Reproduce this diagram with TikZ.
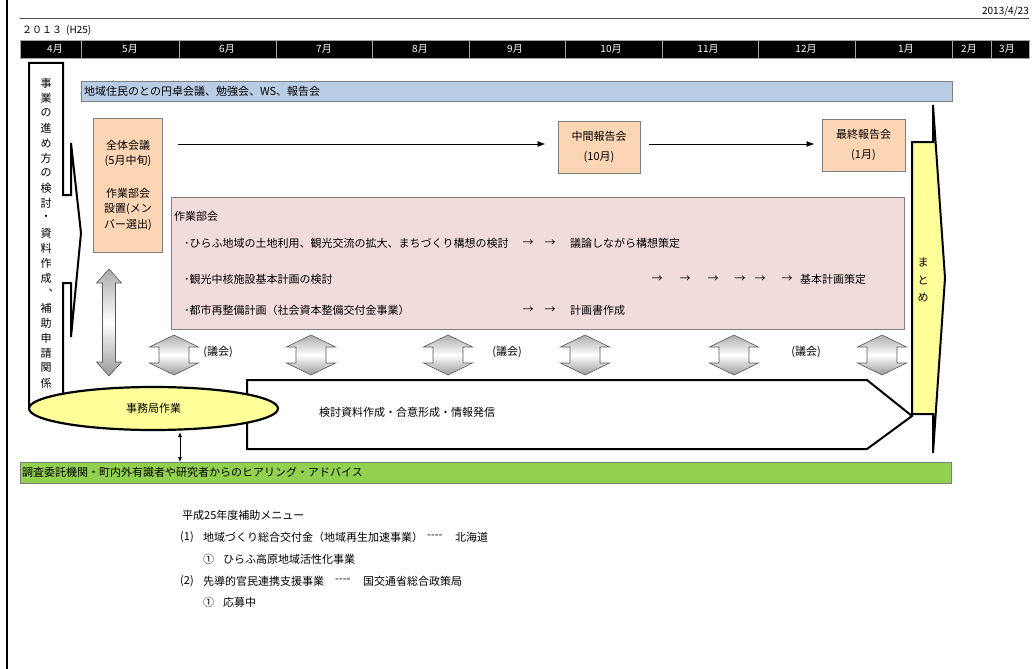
\documentclass[tikz,border=0pt]{standalone}
\usepackage{fontspec}
\setmainfont{Noto Sans CJK JP}
\usetikzlibrary{arrows.meta,shapes.geometric}
\definecolor{peach}{HTML}{FCD5B4}
\definecolor{pinkc}{HTML}{F2DCDB}
\definecolor{bluec}{HTML}{B9CDE5}
\definecolor{greenc}{HTML}{92D050}
\definecolor{yel}{HTML}{FFFF99}
\definecolor{edgegray}{HTML}{7F7F7F}
\tikzset{
  t/.style={inner sep=0pt, font=\fontsize{11}{13}\selectfont},
  tw/.style={t, anchor=west},
  small/.style={inner sep=0pt, font=\fontsize{10}{12}\selectfont},
  bar/.style={draw=edgegray, line width=1pt, inner sep=0pt, anchor=north west},
  monthcell/.style={fill=black, draw=gray!70, line width=0.8pt},
  monthtxt/.style={small, text=white},
  vt/.style={t},
  dbl/.style={draw=gray!70!black, line width=0.6pt, top color=gray!65, bottom color=gray!80, middle color=white},
  arr/.style={-{Latex[length=8pt,width=6pt]}, line width=0.8pt},
  thickln/.style={line width=2pt, line join=miter},
}
\newcommand\dblarrw[6]{\path[dbl] (#1,#2) -- ({#1+#4},{#2+#6}) -- ({#1+#5},{#2+#6}) -- ({#1+#5},{#3-#6}) -- ({#1+#4},{#3-#6}) -- (#1,#3) -- ({#1-#4},{#3-#6}) -- ({#1-#5},{#3-#6}) -- ({#1-#5},{#2+#6}) -- ({#1-#4},{#2+#6}) -- cycle;}
\newcommand\fourdash{-{}-{}-{}-}
\begin{document}
\begin{tikzpicture}[x=1pt,y=-1pt]
\useasboundingbox (0,0) rectangle (1036,669);
\fill[white] (0,0) rectangle (1036,669);
% page border and header
\draw[line width=2.5pt] (7,0) -- (7,669);
\draw[gray!60!black, line width=0.8pt] (20,18) -- (1029,18);
\node[small, anchor=east] (date) at (1029,11) {2013/4/23};
\node[small, anchor=west] (year) at (22,30) {２０１３};
\node[small, anchor=west] (h25) at (66,30) {(H25)};
% months
\foreach \a/\b/\c/\m [count=\i] in {20/81/55/4月, 81/179/130/5月, 179/276/227/6月, 276/372/324/7月, 372/469/420/8月, 469/565/515/9月, 565/662/611/10月, 662/758/708/11月, 758/855/806/12月, 855/952/906/1月, 952/991/969/2月, 991/1029/1007/3月}{
  \path[monthcell] (\a,40) rectangle (\b,58);
  \node[monthtxt] (m\i) at (\c,49) {\m};
}
% blue bar
\node[bar, fill=bluec, minimum width=871pt, minimum height=20pt] (blue) at (81,81) {};
\node[tw] (bluetxt) at (84,91) {地域住民のとの円卓会議、勉強会、WS、報告会};
% left bracket box
\draw[thickln] (29,410) -- (29,63) -- (63,63) -- (63,195) -- (71,195) -- (71,143) -- (81,233) -- (71,337) -- (71,283) -- (63,283) -- (63,400);
\foreach \ch [count=\i] in {事,業,の,進,め,方,の,検,討,・,資,料,作,成}
  \node[vt] (v\i) at (46,{68+15*\i}) {\ch};
\node[vt] (vcomma) at (54,291) {、};
\foreach \ch [count=\i from 16] in {補,助,申,請,関,係}
  \node[vt] (v\i) at (46,{68+15*\i}) {\ch};
% peach boxes
\node[draw=edgegray, line width=1pt, fill=peach, minimum width=69pt, minimum height=134pt, inner sep=0pt, align=center, font=\fontsize{11}{15.5}\selectfont] (zentai) at (128,185) {全体会議\\(5月中旬)\\[17pt]作業部会\\設置(メン\\バー選出)};
\node[draw=edgegray, line width=1pt, fill=peach, minimum width=82pt, minimum height=52pt, inner sep=0pt, align=center, font=\fontsize{11}{20}\selectfont] (chukan) at (599,147) {中間報告会\\(10月)};
\node[draw=edgegray, line width=1pt, fill=peach, minimum width=83pt, minimum height=52pt, inner sep=0pt, align=center, font=\fontsize{11}{20}\selectfont] (saishu) at (863.5,145) {最終報告会\\(1月)};
\draw[arr] ([xshift=15pt,yshift=3pt]zentai.east |- chukan.west) -- ([xshift=-12pt,yshift=3pt]chukan.west);
\draw[arr] ([xshift=8pt,yshift=3pt]chukan.east) -- ([xshift=-7pt,yshift=3pt]chukan.east -| saishu.west);
% working group box
\node[bar, fill=pinkc, minimum width=733pt, minimum height=132pt] (wg) at (171,197) {};
\node[tw] (wgt) at (174,216) {作業部会};
\node[tw] (l1) at (184,243) {･ひらふ地域の土地利用、観光交流の拡大、まちづくり構想の検討};
\node[t] (l1a) at (528,243) {→};
\node[t] (l1b) at (550,243) {→};
\node[tw] (l1c) at (570,243) {議論しながら構想策定};
\node[tw] (l2) at (184,279) {･観光中核施設基本計画の検討};
\foreach \xx [count=\i] in {657,685,713,740,760,787}
  \node[t] (l2a\i) at (\xx,279) {→};
\node[tw] (l2c) at (800,279) {基本計画策定};
\node[tw] (l3) at (184,310) {･都市再整備計画（社会資本整備交付金事業）};
\node[t] (l3a) at (528,310) {→};
\node[t] (l3b) at (550,310) {→};
\node[tw] (l3c) at (570,310) {計画書作成};
% vertical gray double arrows
\dblarrw{109}{269}{376}{12.5}{6.5}{14}
\foreach \xx in {174,311,448,585,734,882}{\dblarrw{\xx}{335}{375}{24.5}{15}{12}}
\node[t] (g1) at (218,352) {(議会)};
\node[t] (g2) at (507,352) {(議会)};
\node[t] (g3) at (806,352) {(議会)};
% pentagon
\draw[thickln, fill=white] (247,380) -- (867,380) -- (912,416) -- (867,449) -- (247,449) -- cycle;
\node[t] (kento) at (407,412) {検討資料作成・合意形成・情報発信};
% matome arrow
\draw[thickln, fill=yel] (912,142) -- (933,142) -- (933,105) -- (945,278) -- (933,453) -- (933,414) -- (912,414) -- cycle;
\node[t] (ma1) at (923,262) {ま};
\node[t] (ma2) at (923,280) {と};
\node[t] (ma3) at (923,297) {め};
% ellipse
\node[ellipse, draw, line width=2.2pt, fill=yel, minimum width=249pt, minimum height=43pt, inner sep=0pt, font=\fontsize{11}{13}\selectfont] (jim) at (153.5,408.5) {事務局作業};
% green bar
\node[bar, fill=greenc, minimum width=931pt, minimum height=21pt] (green) at (20,462) {};
\node[tw] (greentxt) at (22,472.5) {調査委託機関・町内外有識者や研究者からのヒアリング・アドバイス};
\draw[{Latex[length=5pt,width=4pt]}-{Latex[length=5pt,width=4pt]}, line width=0.7pt] ([xshift=26.5pt,yshift=-1pt]jim.south) -- ([xshift=26.5pt]jim.south |- green.north);
% subsidy menu
\node[tw] (s0) at (182,515) {平成25年度補助メニュー};
\node[tw] (s1) at (180,537) {(1)};
\node[tw] (s1b) at (203,537) {地域づくり総合交付金（地域再生加速事業）};
\node[tw] (s1c) at (427,537) {\fourdash};
\node[tw] (s1d) at (455,537) {北海道};
\node[tw] (s2) at (203,559) {①};
\node[tw] (s2b) at (223,559) {ひらふ高原地域活性化事業};
\node[tw] (s3) at (180,581) {(2)};
\node[tw] (s3b) at (203,581) {先導的官民連携支援事業};
\node[tw] (s3c) at (335,581) {\fourdash};
\node[tw] (s3d) at (363,581) {国交通省総合政策局};
\node[tw] (s4) at (203,602) {①};
\node[tw] (s4b) at (223,602) {応募中};
\end{tikzpicture}
\end{document}
